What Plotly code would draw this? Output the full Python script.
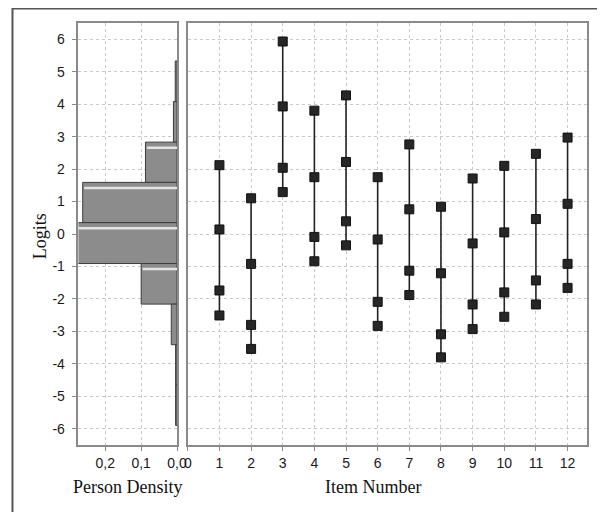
import plotly.graph_objects as go

# ---- data ----
items = list(range(1, 13))
thr1 = [2.12, 1.10, 5.93, 3.80, 4.27, 1.75, 2.76, 0.84, 1.71, 2.10, 2.47, 2.97]
thr2 = [0.14, -0.92, 3.93, 1.75, 2.22, -0.17, 0.76, -1.21, -0.29, 0.05, 0.46, 0.93]
thr3 = [-1.74, -2.80, 2.04, -0.09, 0.39, -2.09, -1.13, -3.09, -2.17, -1.80, -1.43, -0.92]
thr4 = [-2.51, -3.54, 1.29, -0.84, -0.35, -2.83, -1.88, -3.80, -2.93, -2.55, -2.17, -1.66]

bin_edges = [5.33, 4.08, 2.83, 1.59, 0.35, -0.91, -2.16, -3.41, -4.65, -5.90]
person_density = [0.005, 0.010, 0.088, 0.263, 0.300, 0.100, 0.016, 0.004, 0.004]

y_ticks = list(range(-6, 7))
y_labels = [str(v) for v in y_ticks]  # hyphen minus as in reference
density_ticks = [0.0, 0.1, 0.2]
density_labels = ["0,0", "0,1", "0,2"]
item_ticks = list(range(0, 13))

# ---- derived ----
centers = [(bin_edges[i] + bin_edges[i + 1]) / 2 for i in range(len(person_density))]
widths = [bin_edges[i] - bin_edges[i + 1] for i in range(len(person_density))]

fig = go.Figure()

fig.add_trace(go.Bar(
    y=centers, x=person_density, width=widths, orientation="h",
    marker=dict(color="#8c8c8c", line=dict(color="#3c3c3c", width=1)),
    xaxis="x", yaxis="y", showlegend=False, hoverinfo="skip"))

# highlight lines in bars (bevel)
hx, hy = [], []
for i, d in enumerate(person_density):
    if d > 0.02:
        yy = bin_edges[i] - 0.17
        hx += [0.0, d - 0.004, None]
        hy += [yy, yy, None]
fig.add_trace(go.Scatter(x=hx, y=hy, mode="lines",
                         line=dict(color="#e4e4e4", width=2.5),
                         xaxis="x", yaxis="y", showlegend=False, hoverinfo="skip"))

# vertical item lines
lx, ly = [], []
for i, it in enumerate(items):
    lo = min(thr1[i], thr2[i], thr3[i], thr4[i])
    hi = max(thr1[i], thr2[i], thr3[i], thr4[i])
    lx += [it, it, None]
    ly += [lo, hi, None]
fig.add_trace(go.Scatter(x=lx, y=ly, mode="lines", line=dict(color="#222222", width=1.6),
                         xaxis="x2", yaxis="y2", showlegend=False, hoverinfo="skip"))

for series in (thr1, thr2, thr3, thr4):
    fig.add_trace(go.Scatter(x=items, y=series, mode="markers",
                             marker=dict(symbol="square", size=9, color="#262626",
                                         line=dict(color="#111111", width=1)),
                             xaxis="x2", yaxis="y2", showlegend=False))

# page body has an 8px margin; work in reference-pixel coordinates
OFF = 8
W, H = 605 - OFF, 512 - OFF


def px(x):
    return (x - OFF) / W


def py(y):
    return 1 - (y - OFF) / H


grid = dict(showgrid=True, gridcolor="#c8c8c8", griddash="dot", gridwidth=1)
tickfont = dict(family="Liberation Sans, Arial, sans-serif", size=14, color="#1a1a1a")
frame = dict(showline=True, mirror=True, linecolor="#8a8a8a", linewidth=1.5, zeroline=False)
titlefont = dict(family="Liberation Serif, Times New Roman, serif", size=18, color="#111111")

fig.update_layout(
    width=W, height=H, margin=dict(l=0, r=0, t=0, b=0),
    paper_bgcolor="white", plot_bgcolor="white",
    xaxis=dict(domain=[px(76), px(177)], range=[0.275, 0], tickvals=density_ticks,
               ticktext=density_labels, ticks="outside", ticklen=4, tickcolor="#8a8a8a",
               tickfont=tickfont, anchor="y", **grid, **frame),
    yaxis=dict(domain=[py(445), py(23)], range=[-6.5, 6.5], tickvals=y_ticks,
               ticktext=y_labels, ticks="outside", ticklen=5, tickcolor="#8a8a8a",
               ticklabelstandoff=4, tickfont=tickfont, anchor="x", **grid, **frame),
    xaxis2=dict(domain=[px(188), px(597)], range=[0, 12.62], tickvals=item_ticks,
                ticks="outside", ticklen=4, tickcolor="#8a8a8a", tickfont=tickfont,
                anchor="y2", **grid, **frame),
    yaxis2=dict(domain=[py(445), py(23)], range=[-6.5, 6.5], tickvals=y_ticks,
                showticklabels=False, anchor="x2", **grid, **frame),
    annotations=[
        dict(text="Logits", x=px(37), y=py(236), xref="paper", yref="paper",
             xanchor="center", yanchor="middle",
             textangle=-90, showarrow=False, font=titlefont),
        dict(text="Person Density", x=px(127), y=py(487), xref="paper", yref="paper",
             xanchor="center", yanchor="middle", showarrow=False, font=titlefont),
        dict(text="Item Number", x=px(378), y=py(487), xref="paper", yref="paper",
             xanchor="center", yanchor="middle", showarrow=False, font=titlefont),
    ],
    shapes=[dict(type="rect", xref="paper", yref="paper", x0=px(8.5), x1=1.05, y0=-0.05,
                 y1=py(8.5), line=dict(color="#555555", width=2))],
)

fig.write_html("out.html")
